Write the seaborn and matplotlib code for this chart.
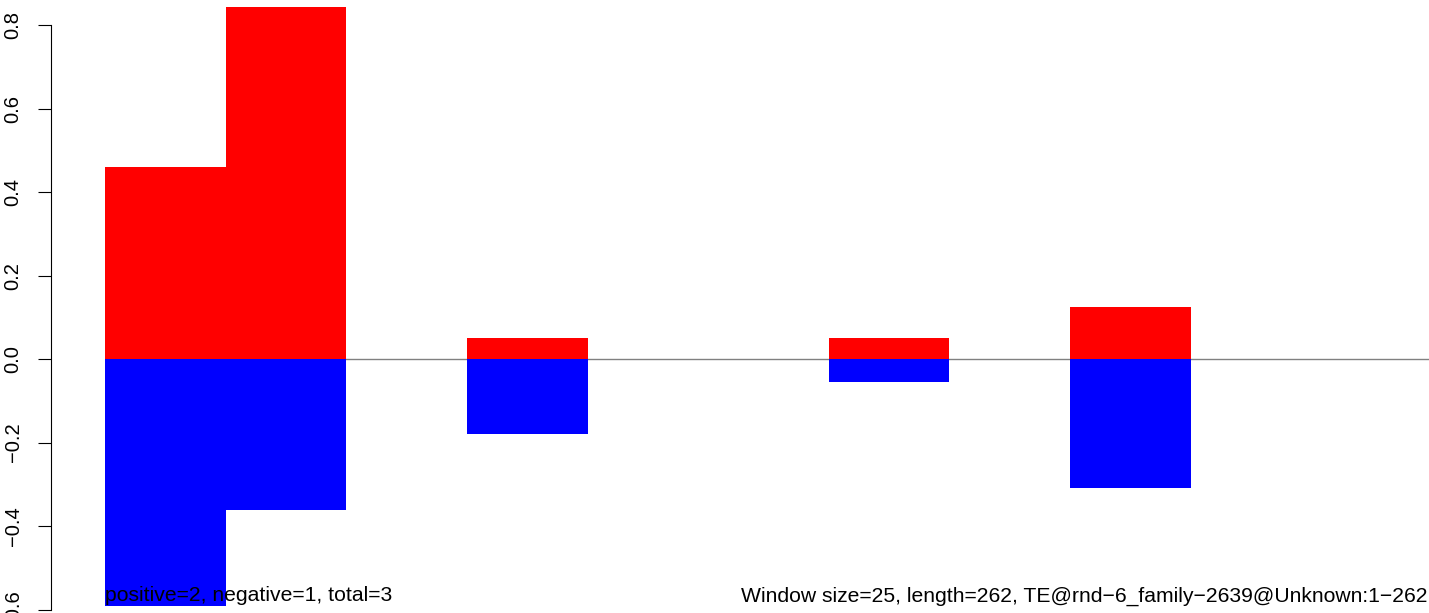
import matplotlib
matplotlib.use("Agg")
import matplotlib.pyplot as plt
import seaborn as sns
import pandas as pd

windows = list(range(11))
positive = [0.46, 0.844, 0.0, 0.05, 0.0, 0.0, 0.05, 0.0, 0.126, 0.0, 0.0]
negative = [-0.592, -0.362, 0.0, -0.18, 0.0, 0.0, -0.054, 0.0, -0.308, 0.0, 0.0]
yticks = [-0.6, -0.4, -0.2, 0.0, 0.2, 0.4, 0.6, 0.8]
left_note = "positive=2, negative=1, total=3"
right_note = "Window size=25, length=262, TE@rnd\u22126_family\u22122639@Unknown:1\u2212262"

sns.set_style("white")
plt.rcParams["font.family"] = ["Liberation Sans", "DejaVu Sans"]
plt.rcParams["axes.unicode_minus"] = True

df = pd.DataFrame({"window": windows, "pos": positive, "neg": negative})

W, H = 1429, 613
fig = plt.figure(figsize=(W / 100, H / 100), dpi=100)
ax = fig.add_axes([105 / W, 0, 1327 / W, 1])

ax.axhline(0, color="#808080", lw=1.0, zorder=0)
sns.barplot(data=df, x="window", y="pos", color="#ff0000", width=1.0,
            saturation=1, ax=ax, linewidth=0, zorder=2)
sns.barplot(data=df, x="window", y="neg", color="#0000ff", width=1.0,
            saturation=1, ax=ax, linewidth=0, zorder=2)

ax.set_xlim(-0.5, 10.5)
ax.set_ylim(-0.608, 0.860)
ax.set_xlabel("")
ax.set_ylabel("")
ax.set_xticks([])
ax.set_yticks(yticks)
ax.set_yticklabels([f"{v:.1f}".replace("-", "\u2212") for v in yticks])
for s in ["top", "right", "bottom"]:
    ax.spines[s].set_visible(False)
ax.spines["left"].set_position(("outward", 54 * 0.72))
ax.spines["left"].set_bounds(-0.6, 0.8)
ax.spines["left"].set_color("black")
ax.spines["left"].set_linewidth(0.8)
ax.tick_params(axis="y", left=True, length=9.4, width=0.8, color="black",
               pad=11, labelsize=14.5, labelrotation=90, labelcolor="black")
for lab in ax.get_yticklabels():
    lab.set_va("center")

ax.text(-0.5, -0.58, left_note, fontsize=15.2, ha="left", va="baseline", color="black")
ax.text(4.77, -0.58, right_note, fontsize=15.2, ha="left", va="baseline", color="black",
        clip_on=False)

fig.savefig("out.png", dpi=100)
